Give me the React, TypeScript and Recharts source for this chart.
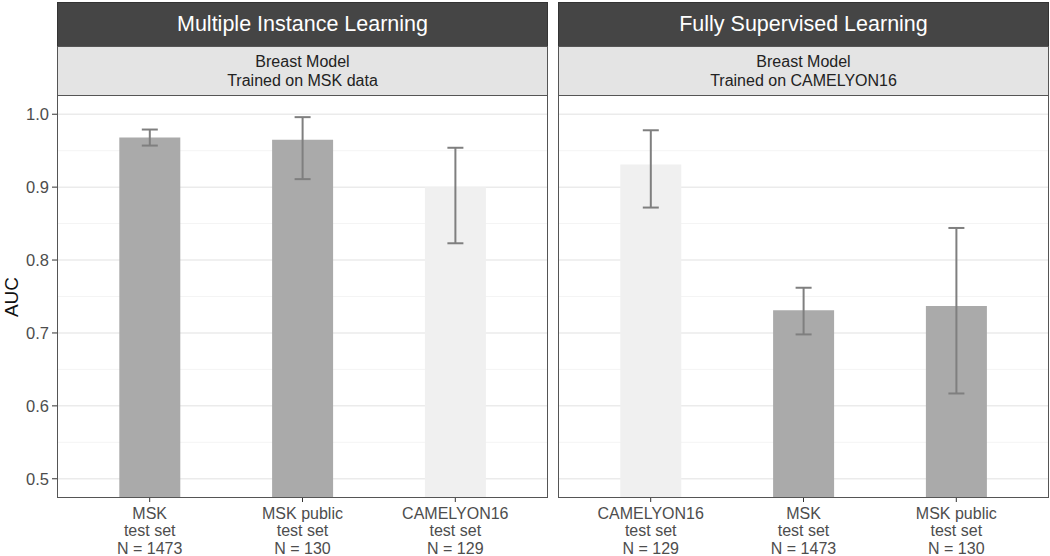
import React from 'react';
import { BarChart, Bar, XAxis, YAxis, CartesianGrid, ErrorBar, Cell } from 'recharts';

// AUC with 95% CI
const milTestSets = ['MSK', 'MSK public', 'CAMELYON16'];
const milN = [1473, 130, 129];
const milAuc = [0.968, 0.965, 0.9];
const milLower = [0.957, 0.911, 0.823];
const milUpper = [0.979, 0.996, 0.954];

const fslTestSets = ['CAMELYON16', 'MSK', 'MSK public'];
const fslN = [129, 1473, 130];
const fslAuc = [0.931, 0.731, 0.737];
const fslLower = [0.872, 0.698, 0.617];
const fslUpper = [0.978, 0.762, 0.844];

const yTicks = [0.5, 0.6, 0.7, 0.8, 0.9, 1.0];
const yMinor = [0.55, 0.65, 0.75, 0.85, 0.95];

const FONT = '"Liberation Sans", Arial, Helvetica, sans-serif';
const DARK_BAR = '#aaaaaa';
const LIGHT_BAR = '#f0f0f0';

const build = (sets: string[], n: number[], auc: number[], lo: number[], hi: number[]) =>
  sets.map((s, i) => ({
    name: s,
    n: n[i],
    auc: auc[i],
    err: [auc[i] - lo[i], hi[i] - auc[i]],
  }));

const milData = build(milTestSets, milN, milAuc, milLower, milUpper);
const fslData = build(fslTestSets, fslN, fslAuc, fslLower, fslUpper);

const XTick = (props: any) => {
  const { x, y, payload, data } = props;
  const row = data.find((d: any) => d.name === payload.value);
  return (
    <text x={x} y={y} textAnchor="middle" fill="#4d4d4d" fontSize={16} fontFamily={FONT}>
      <tspan x={x} dy="0.85em">{payload.value}</tspan>
      <tspan x={x} dy={17.5}>test set</tspan>
      <tspan x={x} dy={17.5}>N = {row ? row.n : ''}</tspan>
    </text>
  );
};

const PLOT_TOP = 96;
const PLOT_H = 401;

const Panel = ({ left, title, sub1, sub2, data, showY }: any) => {
  const yW = showY ? 58 : 0;
  const chartW = 489 + yW;
  const chartLeft = left - yW;
  return (
    <>
      <div
        style={{
          position: 'absolute', left: left - 1, top: 2, width: 489, height: 43,
          background: '#454545', border: '1px solid #333', color: '#fff',
          fontFamily: FONT, fontSize: 21.5, lineHeight: '43px', textAlign: 'center',
        }}
      >
        {title}
      </div>
      <div
        style={{
          position: 'absolute', left: left - 1, top: 46, width: 489, height: 48,
          background: '#e4e4e4', border: '1px solid #555', color: '#222',
          fontFamily: FONT, fontSize: 16, lineHeight: '19px', textAlign: 'center',
          display: 'flex', flexDirection: 'column', justifyContent: 'center',
        }}
      >
        <div>{sub1}</div>
        <div>{sub2}</div>
      </div>
      <div style={{ position: 'absolute', left: chartLeft, top: PLOT_TOP }}>
        <BarChart
          width={chartW}
          height={PLOT_H + 59}
          data={data}
          margin={{ top: 0, right: 0, left: 0, bottom: 0 }}
          barSize={61}
        >
          <CartesianGrid vertical={false} horizontalValues={yMinor} stroke="#f4f4f4" strokeWidth={1} />
          <CartesianGrid vertical={false} horizontalValues={yTicks} stroke="#ebebeb" strokeWidth={1.5} />
          <XAxis
            dataKey="name"
            height={59}
            padding={{ left: 15.3, right: 15.3 }}
            axisLine={false}
            tickLine={{ stroke: '#333' }}
            tickSize={5}
            tickMargin={3}
            interval={0}
            tick={<XTick data={data} />}
          />
          <YAxis
            hide={!showY}
            width={yW}
            type="number"
            domain={[0.475, 1.025]}
            allowDataOverflow
            ticks={yTicks}
            tickFormatter={(v: number) => v.toFixed(1)}
            axisLine={false}
            tickLine={{ stroke: '#333' }}
            tickSize={6}
            tickMargin={3}
            tick={{ fill: '#4d4d4d', fontSize: 16.5, fontFamily: FONT }}
          />
          <Bar dataKey="auc" isAnimationActive={false}>
            {data.map((d: any, i: number) => (
              <Cell key={`c-${i}`} fill={d.name === 'CAMELYON16' ? LIGHT_BAR : DARK_BAR} />
            ))}
            <ErrorBar dataKey="err" width={8} stroke="#7f7f7f" strokeWidth={2} isAnimationActive={false} />
          </Bar>
        </BarChart>
      </div>
      <div
        style={{
          position: 'absolute', left: left - 1, top: PLOT_TOP - 1, width: 489, height: PLOT_H,
          border: '1px solid #555', pointerEvents: 'none',
        }}
      />
    </>
  );
};

export default function App() {
  return (
    <div style={{ position: 'absolute', left: 0, top: 0, width: 1050, height: 556, background: '#fff', overflow: 'hidden' }}>
      <div
        style={{
          position: 'absolute', left: 12, top: 297, transform: 'translate(-50%, -50%) rotate(-90deg)',
          fontFamily: FONT, fontSize: 19, color: '#111', whiteSpace: 'nowrap',
        }}
      >
        AUC
      </div>
      <Panel left={58} title="Multiple Instance Learning" sub1="Breast Model" sub2="Trained on MSK data" data={milData} showY />
      <Panel left={559} title="Fully Supervised Learning" sub1="Breast Model" sub2="Trained on CAMELYON16" data={fslData} showY={false} />
    </div>
  );
}
